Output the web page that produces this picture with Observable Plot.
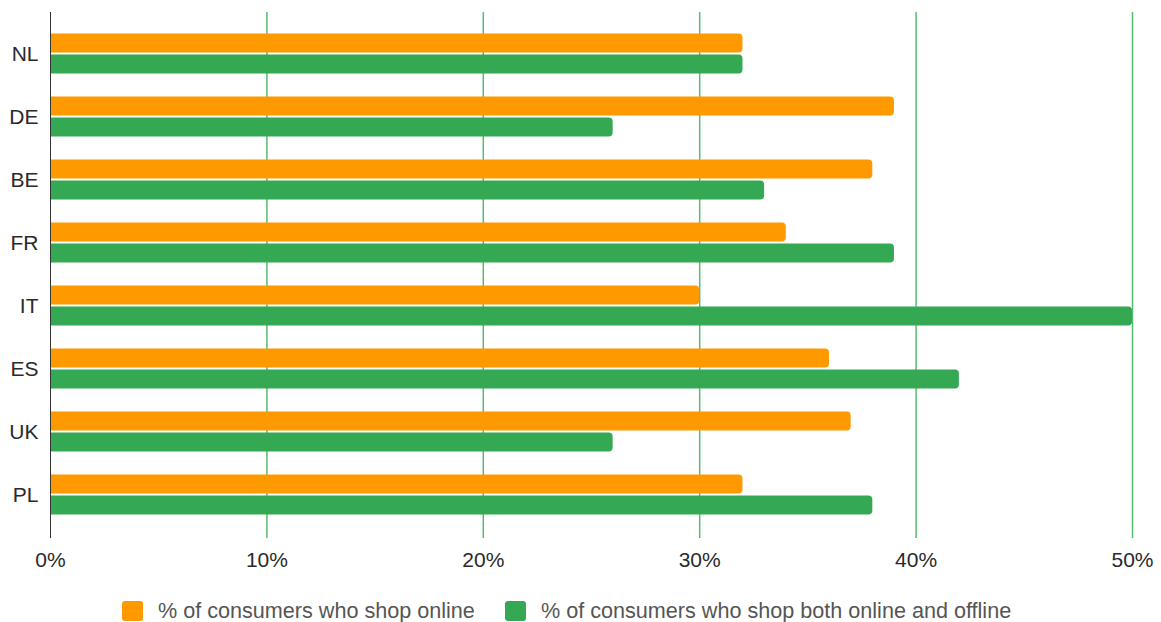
<!DOCTYPE html>
<html>
<head>
<meta charset="utf-8">
<script src="https://cdn.jsdelivr.net/npm/d3@7"></script>
<script src="https://cdn.jsdelivr.net/npm/@observablehq/plot@0.6"></script>
<style>
  html, body { margin: 0; padding: 0; background: #fff; }
  body { width: 1161px; height: 622px; position: relative; overflow: hidden; font-family: "Liberation Sans", Arial, sans-serif; }
  #chart { position: absolute; left: 0; top: 0; }
  .legend-item { position: absolute; top: 600px; display: flex; align-items: center; height: 21px; font-size: 21.6px; color: #555; white-space: nowrap; }
  .swatch { width: 21px; height: 20px; border-radius: 3px; margin-right: 15px; }
</style>
</head>
<body>
<div id="chart"></div>
<div class="legend-item" style="left:122px"><span class="swatch" style="background:#ff9900"></span><span>% of consumers who shop online</span></div>
<div class="legend-item" style="left:505px"><span class="swatch" style="background:#34a853"></span><span>% of consumers who shop both online and offline</span></div>
<script>
const countries = ["NL", "DE", "BE", "FR", "IT", "ES", "UK", "PL"];
const online = [32, 39, 38, 34, 30, 36, 37, 32];
const both = [32, 26, 33, 39, 50, 42, 26, 38];
const xTicks = [0, 10, 20, 30, 40, 50];

const rows = countries.map((c, i) => ({country: c, online: online[i], both: both[i]}));

const chart = Plot.plot({
  width: 1161,
  height: 580,
  marginLeft: 50,
  marginRight: 29,
  marginTop: 21,
  marginBottom: 53,
  style: {fontFamily: "'Liberation Sans', Arial, sans-serif", fontSize: "21px", color: "#2a2a2a", background: "#fff"},
  x: {domain: [0, 50], ticks: xTicks, tickFormat: d => d + "%", tickSize: 0, tickPadding: 25, label: null},
  y: {domain: countries, padding: 0, tickSize: 0, tickPadding: 12, label: null},
  marks: [
    Plot.ruleX(xTicks.filter(d => d > 0), {stroke: "#57bb6e", strokeWidth: 1.5, insetTop: -9, insetBottom: -11}),
    Plot.barX(rows, {x: "online", y: "country", fill: "#ff9900", insetTop: 11.5, insetBottom: 32.5, rx: 4, insetLeft: -6, clip: true}),
    Plot.barX(rows, {x: "both", y: "country", fill: "#34a853", insetTop: 32.5, insetBottom: 11.5, rx: 4, insetLeft: -6, clip: true}),
    Plot.ruleX([0], {stroke: "#333", strokeWidth: 1, insetTop: -9, insetBottom: -11})
  ]
});
document.getElementById("chart").appendChild(chart);
</script>
</body>
</html>
